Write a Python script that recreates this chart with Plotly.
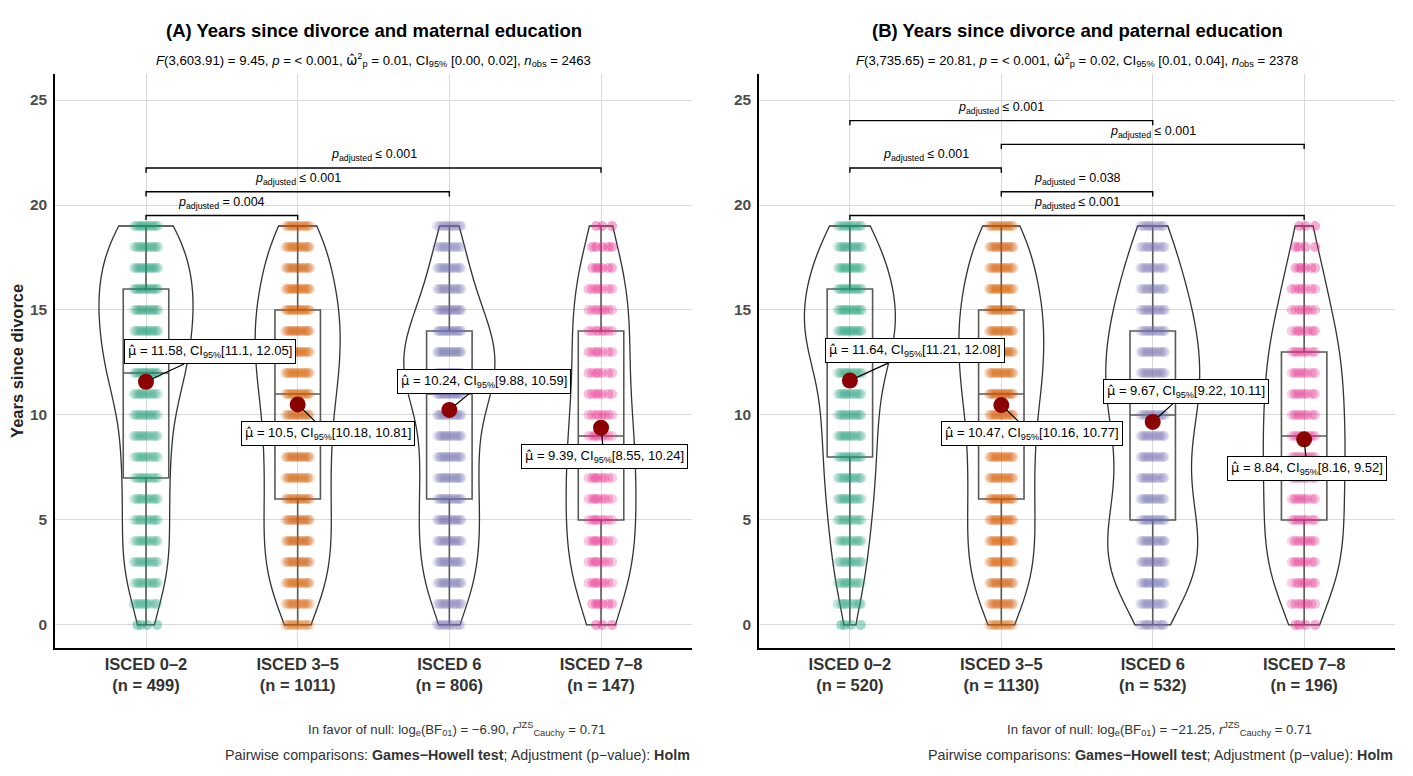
import numpy as np
import plotly.graph_objects as go

# ---------------- data ----------------
categories = ["ISCED 0–2", "ISCED 3–5", "ISCED 6", "ISCED 7–8"]
years = list(range(20))

# Panel A (maternal education): estimated counts per year 0..19
a_isced02 = [4, 12, 18, 20, 19, 18, 18, 19, 19, 20, 21, 22, 40, 31, 37, 39, 41, 34, 32, 35]
a_isced35 = [20, 35, 45, 50, 52, 50, 50, 48, 50, 52, 50, 60, 62, 64, 66, 64, 58, 50, 45, 40]
a_isced6 = [12, 28, 36, 40, 42, 43, 40, 40, 40, 40, 41, 63, 66, 70, 60, 45, 35, 27, 22, 16]
a_isced78 = [3, 6, 9, 9, 9, 9, 9, 9, 9, 9, 8, 7, 7, 7, 8, 8, 7, 6, 5, 3]
a_n = [499, 1011, 806, 147]
a_q1 = [7, 6, 6, 5]
a_median = [12, 11, 11, 9]
a_q3 = [16, 15, 14, 14]
a_min = [0, 0, 0, 0]
a_max = [19, 19, 19, 19]
a_mean = [11.58, 10.5, 10.24, 9.39]
a_ci = [(11.1, 12.05), (10.18, 10.81), (9.88, 10.59), (8.55, 10.24)]
a_pairs = [(1, 2), (1, 3), (1, 4)]
a_plabels = ["= 0.004", "≤ 0.001", "≤ 0.001"]

# Panel B (paternal education)
b_isced02 = [4, 10, 14, 16, 18, 20, 22, 24, 24, 25, 26, 27, 28, 42, 45, 44, 42, 35, 30, 24]
b_isced35 = [22, 40, 50, 56, 58, 56, 56, 54, 56, 58, 58, 68, 70, 72, 72, 72, 64, 56, 50, 42]
b_isced6 = [10, 22, 30, 34, 36, 30, 27, 25, 25, 26, 32, 34, 34, 33, 32, 28, 24, 20, 16, 14]
b_isced78 = [4, 8, 11, 12, 13, 12, 12, 12, 13, 13, 12, 12, 12, 12, 10, 8, 7, 6, 4, 3]
b_n = [520, 1130, 532, 196]
b_q1 = [8, 6, 5, 5]
b_median = [13, 11, 10, 9]
b_q3 = [16, 15, 14, 13]
b_min = [0, 0, 0, 0]
b_max = [19, 19, 19, 19]
b_mean = [11.64, 10.47, 9.67, 8.84]
b_ci = [(11.21, 12.08), (10.16, 10.77), (9.22, 10.11), (8.16, 9.52)]
b_pairs = [(1, 4), (2, 3), (1, 2), (2, 4), (1, 3)]
b_plabels = ["≤ 0.001", "= 0.038", "≤ 0.001", "≤ 0.001", "≤ 0.001"]

HAT = '<span style="font-family:DejaVu Sans">{}\u0302</span>'
titles = ["(A) Years since divorce and maternal education",
          "(B) Years since divorce and paternal education"]
subtitles = [
    "<i>F</i>(3,603.91) = 9.45, <i>p</i> = < 0.001, " + HAT.format("ω") + "<sup>2</sup><sub>p</sub> = 0.01, "
    "CI<sub>95%</sub> [0.00, 0.02], <i>n</i><sub>obs</sub> = 2463",
    "<i>F</i>(3,735.65) = 20.81, <i>p</i> = < 0.001, " + HAT.format("ω") + "<sup>2</sup><sub>p</sub> = 0.02, "
    "CI<sub>95%</sub> [0.01, 0.04], <i>n</i><sub>obs</sub> = 2378",
]
captions = [
    "In favor of null: log<sub>e</sub>(BF<sub>01</sub>) = −6.90, <i>r</i><sup>JZS</sup><sub>Cauchy</sub> = 0.71",
    "In favor of null: log<sub>e</sub>(BF<sub>01</sub>) = −21.25, <i>r</i><sup>JZS</sup><sub>Cauchy</sub> = 0.71",
]
caption2 = "Pairwise comparisons: <b>Games−Howell test</b>; Adjustment (p−value): <b>Holm</b>"

# ---------------- styles / layout ----------------
colors = ["#1B9E77", "#D95F02", "#7570B3", "#E7298A"]
FONT = "Liberation Sans, Arial, sans-serif"
violin_widths = {"A": [0.62, 0.56, 0.6, 0.46], "B": [0.6, 0.56, 0.62, 0.54]}
label_pos = {  # label centres (category units, y units)
    "A": [(1.42, 13.0), (2.2, 9.1), (3.23, 11.6), (4.02, 8.0)],
    "B": [(1.43, 13.05), (2.2, 9.1), (3.22, 11.1), (4.02, 7.43)],
}
bracket_base, bracket_step, tick_len = 19.5, 1.13, 0.22
jitter_half = 0.085
phi = 0.6180339887
marker_px = 10
px_per_cat = 151.5

panels = [
    dict(key="A", xa="x", ya="y", counts=[a_isced02, a_isced35, a_isced6, a_isced78], n=a_n,
         q1=a_q1, med=a_median, q3=a_q3, lo=a_min, hi=a_max, mean=a_mean, ci=a_ci,
         pairs=a_pairs, plab=a_plabels),
    dict(key="B", xa="x2", ya="y2", counts=[b_isced02, b_isced35, b_isced6, b_isced78], n=b_n,
         q1=b_q1, med=b_median, q3=b_q3, lo=b_min, hi=b_max, mean=b_mean, ci=b_ci,
         pairs=b_pairs, plab=b_plabels),
]

fig = go.Figure()
annotations = []
shapes = []

band_px = 2 * jitter_half * px_per_cat + marker_px

for pi, p in enumerate(panels):
    xa, ya = p["xa"], p["ya"]
    # jittered points
    for gi, cnts in enumerate(p["counts"]):
        xs, ys, ops = [], [], []
        for yv, c in zip(years, cnts):
            k = np.arange(c)
            frac = ((k + 0.5) * phi) % 1.0
            xs.extend((gi + 1) + (frac - 0.5) * 2 * jitter_half)
            ys.extend([yv] * c)
            layers = max(c * marker_px / band_px, 1.0)
            target = 0.5 + 0.15 * min(c / 60.0, 1.0)
            a = min(1 - (1 - target) ** (1 / layers), 0.4)
            ops.extend([a] * c)
        fig.add_trace(go.Scatter(x=xs, y=ys, mode="markers", xaxis=xa, yaxis=ya,
                                 marker=dict(size=marker_px, color=colors[gi], opacity=ops, line=dict(width=0)),
                                 hoverinfo="skip", showlegend=False))
    # boxes
    for gi in range(4):
        fig.add_trace(go.Box(x=[gi + 1], q1=[p["q1"][gi]], median=[p["med"][gi]], q3=[p["q3"][gi]],
                             lowerfence=[p["lo"][gi]], upperfence=[p["hi"][gi]],
                             width=0.3, whiskerwidth=0, xaxis=xa, yaxis=ya,
                             line=dict(color="#595959", width=1.6),
                             fillcolor="rgba(255,255,255,0)", showlegend=False, hoverinfo="skip"))
    # violins
    for gi, cnts in enumerate(p["counts"]):
        vals = np.repeat(years, cnts)
        fig.add_trace(go.Violin(x=[gi + 1] * len(vals), y=vals, xaxis=xa, yaxis=ya,
                                width=violin_widths[p["key"]][gi], spanmode="hard", points=False,
                                scalemode="width", line=dict(color="#333333", width=1.3),
                                fillcolor="rgba(255,255,255,0)", showlegend=False, hoverinfo="skip"))
    # means
    fig.add_trace(go.Scatter(x=[1, 2, 3, 4], y=p["mean"], mode="markers", xaxis=xa, yaxis=ya,
                             marker=dict(size=16, color="#8B0000"), hoverinfo="skip", showlegend=False))
    for gi in range(4):
        lx, ly = label_pos[p["key"]][gi]
        lo, hi = p["ci"][gi]
        txt = HAT.format("μ") + f" = {p['mean'][gi]:g}, CI<sub>95%</sub>[{lo:g}, {hi:g}]"
        annotations.append(dict(x=gi + 1, y=p["mean"][gi], xref=xa, yref=ya, ax=lx, ay=ly,
                                axref=xa, ayref=ya, text=txt, showarrow=True, arrowhead=0,
                                arrowwidth=1.2, arrowcolor="black", standoff=7,
                                font=dict(family=FONT, size=13, color="black"),
                                bgcolor="white", bordercolor="black", borderwidth=1, borderpad=3))
    # brackets
    for bi, ((c1, c2), pl) in enumerate(zip(p["pairs"], p["plab"])):
        h = bracket_base + bi * bracket_step
        shapes.append(dict(type="path", xref=xa, yref=ya,
                           path=f"M {c1},{h - tick_len} L {c1},{h} L {c2},{h} L {c2},{h - tick_len}",
                           line=dict(color="black", width=1.4)))
        annotations.append(dict(x=(c1 + c2) / 2, y=h + 0.6, xref=xa, yref=ya, showarrow=False,
                                text=f"<i>p</i><sub>adjusted</sub> {pl}",
                                font=dict(family=FONT, size=12.5, color="black")))
    dom = xa + " domain"
    annotations.append(dict(x=0.5, y=1.0976, xref=dom, yref="paper", showarrow=False, xanchor="center",
                            text=f"<b>{titles[pi]}</b>", font=dict(family=FONT, size=18.5, color="black")))
    annotations.append(dict(x=0.5, y=1.0436, xref=dom, yref="paper", showarrow=False, xanchor="center",
                            text=subtitles[pi], font=dict(family=FONT, size=13.2, color="black")))
    annotations.append(dict(x=0.63, y=-0.160, xref=dom, yref="paper", showarrow=False, xanchor="center",
                            text=captions[pi], font=dict(family=FONT, size=13.2, color="#333333")))
    annotations.append(dict(x=1, y=-0.2038, xref=dom, yref="paper", showarrow=False, xanchor="right",
                            text=caption2, font=dict(family=FONT, size=14.3, color="#333333")))

annotations.append(dict(x=-0.0284, y=0.50, xref="paper", yref="paper", showarrow=False, textangle=-90,
                        xanchor="center", yanchor="middle",
                        text="<b>Years since divorce</b>", font=dict(family=FONT, size=16.5, color="#222222")))


def xaxis(domain, n):
    return dict(domain=domain, range=[0.4, 4.6], tickvals=[1, 2, 3, 4],
                ticktext=[f"<b>{c}</b><br><b>(n = {k})</b>" for c, k in zip(categories, n)],
                tickfont=dict(family=FONT, size=16.5, color="#333333"),
                showgrid=True, gridcolor="#D9D9D9", gridwidth=1.2, zeroline=False,
                showline=True, linecolor="black", linewidth=1.5, ticks="", fixedrange=True)


def yaxis(anchor):
    return dict(anchor=anchor, range=[-1.1, 26.24], tickvals=[0, 5, 10, 15, 20, 25],
                tickfont=dict(family=FONT, size=15.5, color="#4D4D4D", weight="bold"),
                showgrid=True, gridcolor="#D9D9D9", gridwidth=1.2, zeroline=False,
                showline=True, linecolor="black", linewidth=1.5, ticks="", ticklabelstandoff=3,
                fixedrange=True)


# page body has an 8px default margin: size the figure so the plot lands where the reference has it
fig.update_layout(
    width=1397, height=760,
    margin=dict(l=47, r=10, t=66, b=120),
    paper_bgcolor="white", plot_bgcolor="white",
    xaxis=dict(**xaxis([0, 0.4754], a_n), anchor="y"),
    xaxis2=dict(**xaxis([0.5254, 1.0], b_n), anchor="y2"),
    yaxis=yaxis("x"),
    yaxis2=yaxis("x2"),
    boxmode="overlay", violinmode="overlay",
    annotations=annotations, shapes=shapes,
    showlegend=False, font=dict(family=FONT),
)

fig.write_html("out.html")
